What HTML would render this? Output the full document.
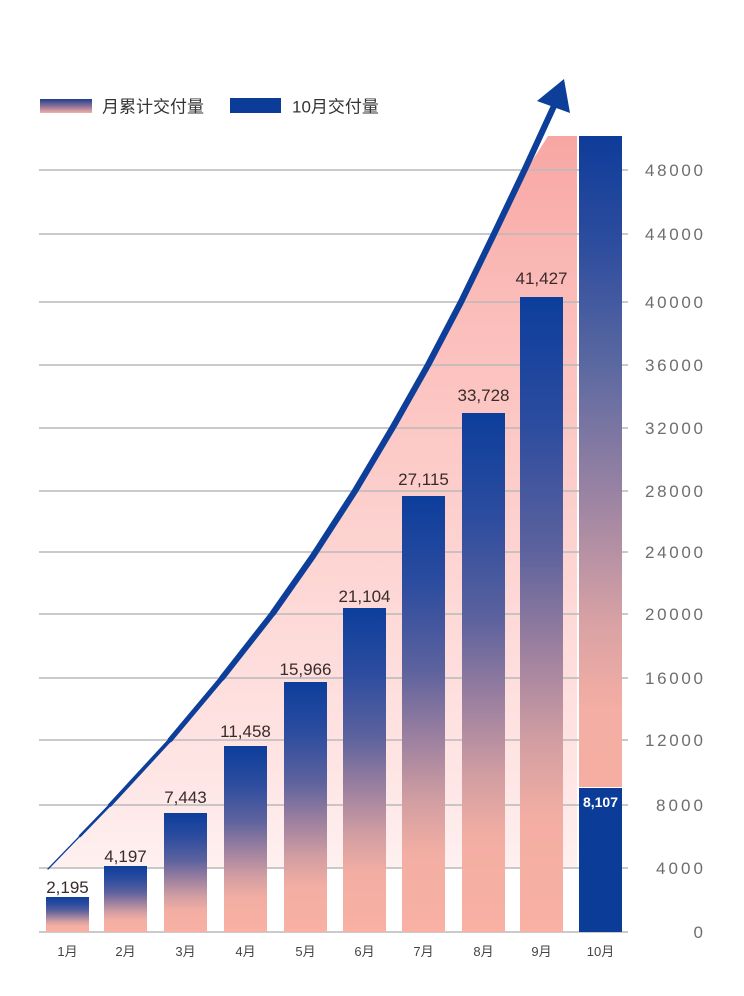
<!DOCTYPE html>
<html><head><meta charset="utf-8"><style>
html,body{margin:0;padding:0;background:#fff;}
svg{display:block;}
text{font-family:"Liberation Sans","Noto Sans CJK SC",sans-serif;}
</style></head><body>
<svg width="744" height="996" viewBox="0 0 744 996" xmlns="http://www.w3.org/2000/svg">
<defs>
<linearGradient id="pinkArea" gradientUnits="userSpaceOnUse" x1="0" y1="136" x2="0" y2="868">
<stop offset="0" stop-color="#f8a6a3"/>
<stop offset="0.22" stop-color="#fbbcb9"/>
<stop offset="0.43" stop-color="#fccac7"/>
<stop offset="0.63" stop-color="#fdd8d6"/>
<stop offset="0.88" stop-color="#fee6e5"/>
<stop offset="1" stop-color="#fff0f0"/>
</linearGradient>
<linearGradient id="barG" x1="0" y1="0" x2="0" y2="1">
<stop offset="0" stop-color="#0c3e9c"/>
<stop offset="0.2" stop-color="#2c4c9f"/>
<stop offset="0.4" stop-color="#5d629e"/>
<stop offset="0.55" stop-color="#9a7f9f"/>
<stop offset="0.7" stop-color="#d29ea2"/>
<stop offset="0.82" stop-color="#f3aea3"/>
<stop offset="1" stop-color="#f8b1a3"/>
</linearGradient>
<linearGradient id="bar10" x1="0" y1="0" x2="0" y2="1">
<stop offset="0" stop-color="#0e3c9a"/>
<stop offset="0.17" stop-color="#2e4d9e"/>
<stop offset="0.35" stop-color="#5a68a1"/>
<stop offset="0.55" stop-color="#9a83a3"/>
<stop offset="0.75" stop-color="#d9a2a4"/>
<stop offset="0.88" stop-color="#f4aea3"/>
<stop offset="1" stop-color="#f6aea2"/>
</linearGradient>
<linearGradient id="legG" x1="0" y1="0" x2="0" y2="1">
<stop offset="0" stop-color="#1e3f8f"/>
<stop offset="0.5" stop-color="#8a6f96"/>
<stop offset="1" stop-color="#f4b0a4"/>
</linearGradient>
</defs>

<!-- legend -->
<rect x="40" y="99" width="52" height="14" fill="url(#legG)"/>
<text x="102" y="112.5" font-size="17" fill="#333">月累计交付量</text>
<rect x="230" y="98" width="51" height="15" fill="#0b3d98"/>
<text x="292" y="112.5" font-size="17" fill="#333">10月交付量</text>

<!-- pink area -->
<polygon fill="url(#pinkArea)" points="50,868 82,836 112,805 172,740 224,678 275,613 315,556 357,491 395,427 430,365 463,302 496,234 527,169 548,136 577,136 577,868"/>

<!-- gridlines -->
<g stroke="#b9b9b9" stroke-width="1.4">
<line x1="39" y1="170" x2="628" y2="170"/>
<line x1="39" y1="234" x2="628" y2="234"/>
<line x1="39" y1="302" x2="628" y2="302"/>
<line x1="39" y1="365" x2="628" y2="365"/>
<line x1="39" y1="428" x2="628" y2="428"/>
<line x1="39" y1="491" x2="628" y2="491"/>
<line x1="39" y1="552" x2="628" y2="552"/>
<line x1="39" y1="614" x2="628" y2="614"/>
<line x1="39" y1="678" x2="628" y2="678"/>
<line x1="39" y1="740" x2="628" y2="740"/>
<line x1="39" y1="805" x2="628" y2="805"/>
<line x1="39" y1="868" x2="628" y2="868"/>
<line x1="39" y1="932" x2="628" y2="932"/>
</g>

<!-- bars -->
<rect x="46" y="897" width="43" height="35" fill="url(#barG)"/>
<rect x="104" y="866" width="43" height="66" fill="url(#barG)"/>
<rect x="164" y="813" width="43" height="119" fill="url(#barG)"/>
<rect x="224" y="746" width="43" height="186" fill="url(#barG)"/>
<rect x="284" y="682" width="43" height="250" fill="url(#barG)"/>
<rect x="343" y="608" width="43" height="324" fill="url(#barG)"/>
<rect x="402" y="496" width="43" height="436" fill="url(#barG)"/>
<rect x="462" y="413" width="43" height="519" fill="url(#barG)"/>
<rect x="520" y="297" width="43" height="635" fill="url(#barG)"/>
<rect x="579" y="136" width="43" height="651" fill="url(#bar10)"/>
<rect x="579" y="788" width="43" height="144" fill="#0b3d98"/>

<!-- arrow curve -->
<g fill="none" stroke="#0d3e99" stroke-linecap="round" stroke-linejoin="round">
<polyline points="48,869 80,836" stroke-width="1.3"/>
<polyline points="80,836 110,805" stroke-width="2.6"/>
<polyline points="110,805 170,740" stroke-width="3.8"/>
<polyline points="170,740 222,678" stroke-width="5"/>
<polyline points="222,678 273,613" stroke-width="5.8"/>
<polyline points="273,613 313,556 355,491 393,427 428,365 461,302 494,234 525,169 554,106" stroke-width="6.2"/>
</g>
<polygon points="564,79 537,101 570,113" fill="#0d3e99"/>

<!-- bar value labels -->
<g font-size="17" fill="#3a2b2b" text-anchor="middle">
<text x="67.5" y="893">2,195</text>
<text x="125.5" y="862">4,197</text>
<text x="185.5" y="803">7,443</text>
<text x="245.5" y="737">11,458</text>
<text x="305.5" y="675">15,966</text>
<text x="364.5" y="602">21,104</text>
<text x="423.5" y="485">27,115</text>
<text x="483.5" y="401">33,728</text>
<text x="541.5" y="284">41,427</text>
</g>
<text x="600.5" y="807" font-size="14" fill="#ffffff" text-anchor="middle" font-weight="bold">8,107</text>

<!-- y-axis labels -->
<g font-size="17" fill="#6e6e6e" text-anchor="end">
<text x="703" y="176" textLength="58" lengthAdjust="spacing">48000</text>
<text x="703" y="240" textLength="58" lengthAdjust="spacing">44000</text>
<text x="703" y="308" textLength="58" lengthAdjust="spacing">40000</text>
<text x="703" y="371" textLength="58" lengthAdjust="spacing">36000</text>
<text x="703" y="434" textLength="58" lengthAdjust="spacing">32000</text>
<text x="703" y="497" textLength="58" lengthAdjust="spacing">28000</text>
<text x="703" y="558" textLength="58" lengthAdjust="spacing">24000</text>
<text x="703" y="620" textLength="58" lengthAdjust="spacing">20000</text>
<text x="703" y="684" textLength="58" lengthAdjust="spacing">16000</text>
<text x="703" y="746" textLength="58" lengthAdjust="spacing">12000</text>
<text x="703" y="811" textLength="47" lengthAdjust="spacing">8000</text>
<text x="703" y="874" textLength="47" lengthAdjust="spacing">4000</text>
<text x="703" y="938">0</text>
</g>

<!-- x-axis labels -->
<g font-size="13" fill="#444" text-anchor="middle">
<text x="67.5" y="956">1月</text>
<text x="125.5" y="956">2月</text>
<text x="185.5" y="956">3月</text>
<text x="245.5" y="956">4月</text>
<text x="305.5" y="956">5月</text>
<text x="364.5" y="956">6月</text>
<text x="423.5" y="956">7月</text>
<text x="483.5" y="956">8月</text>
<text x="541.5" y="956">9月</text>
<text x="600.5" y="956">10月</text>
</g>
</svg>
</body></html>
